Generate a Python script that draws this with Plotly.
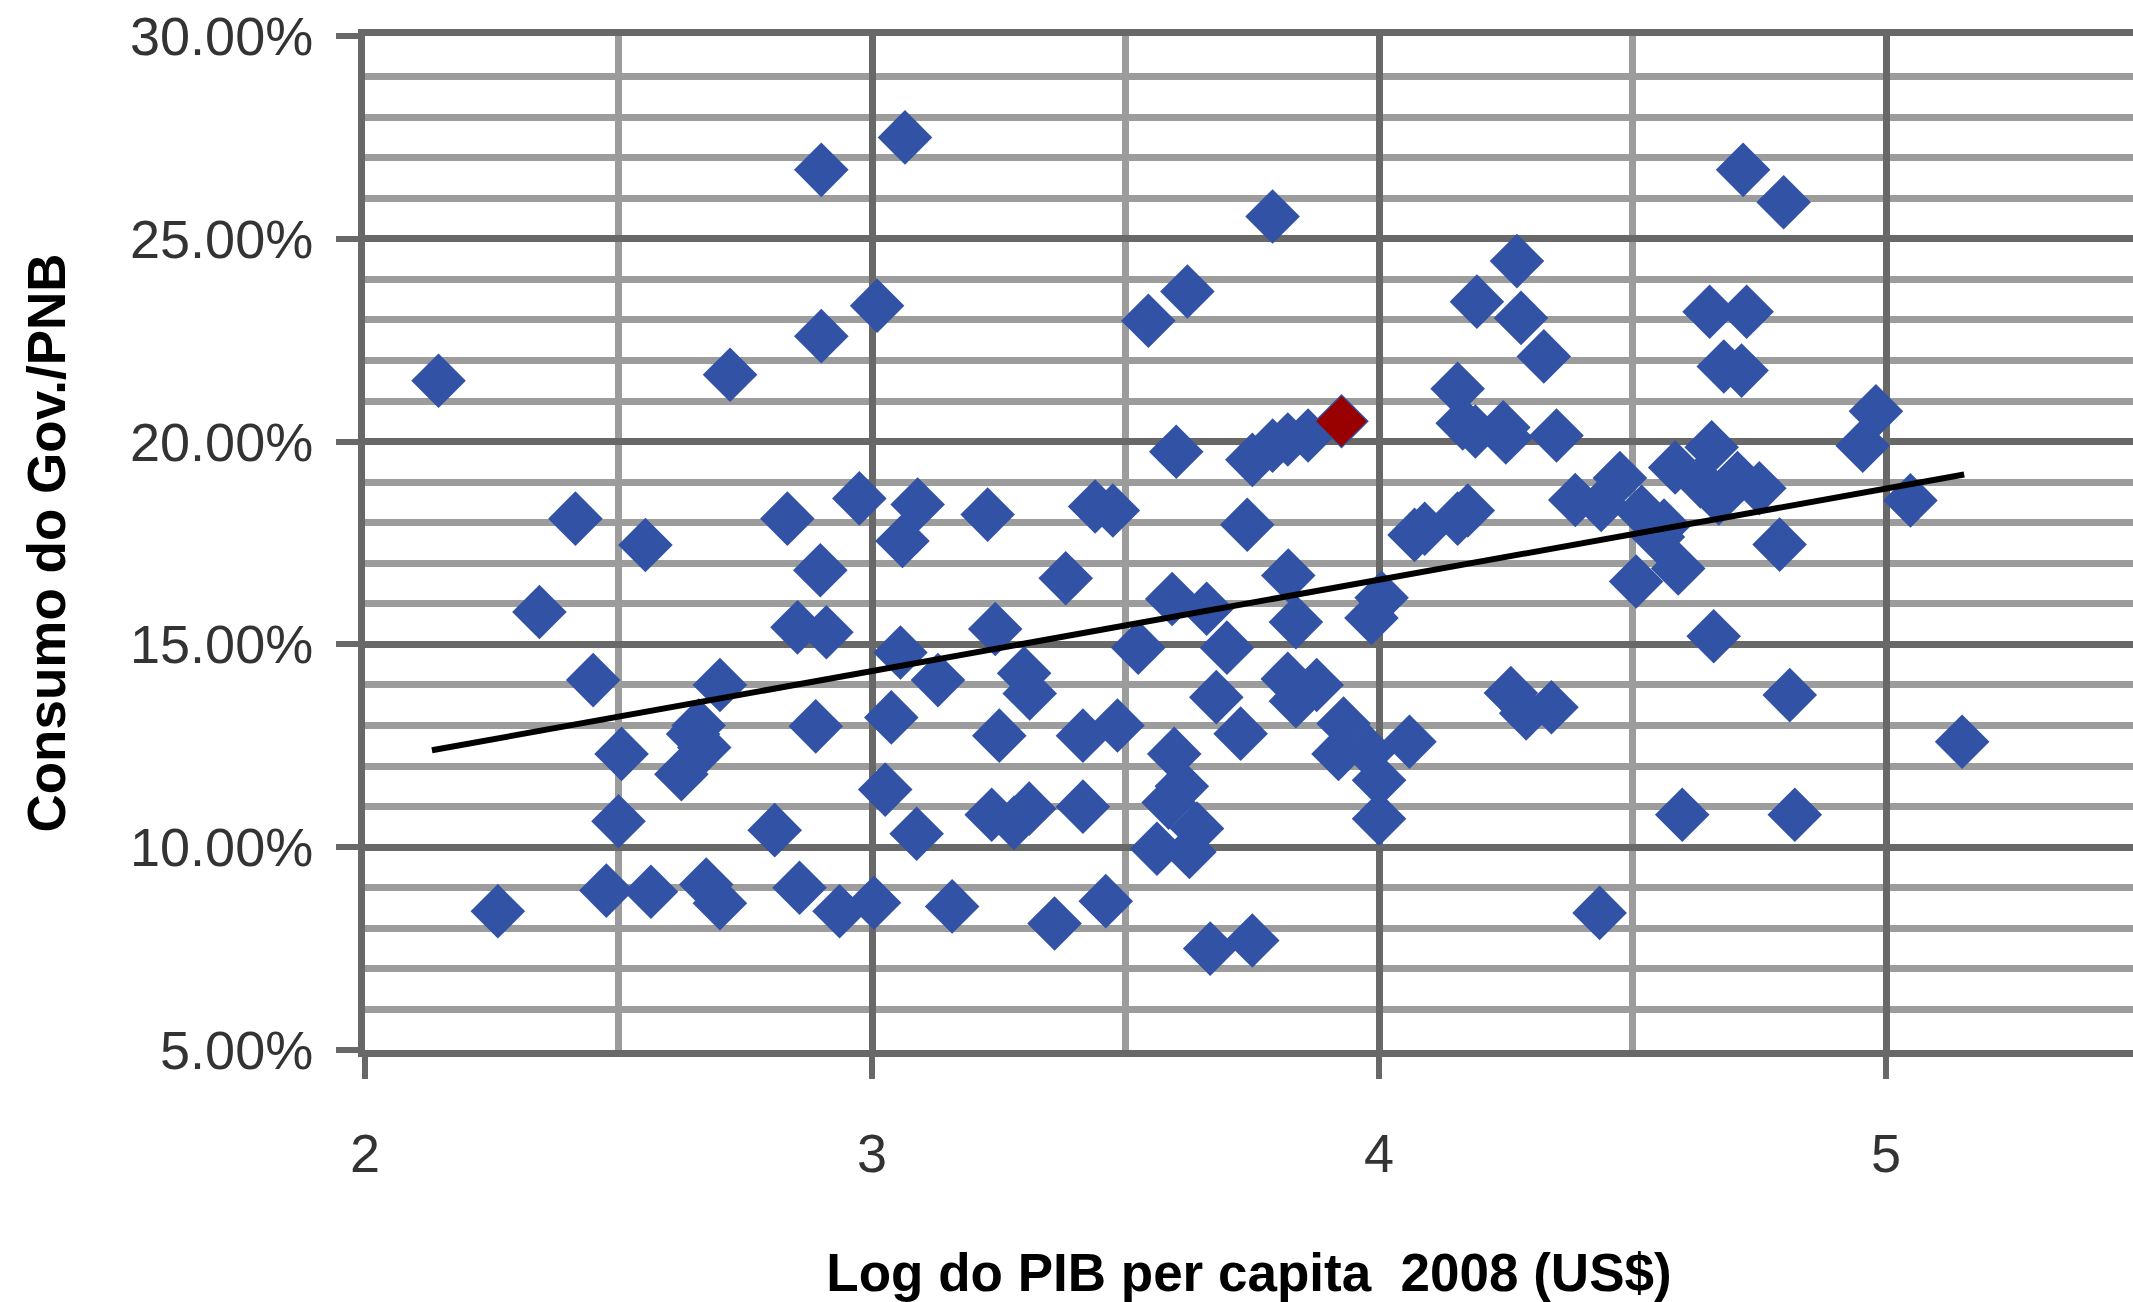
import plotly.graph_objects as go

# Log GDP per capita 2008 (x) vs government consumption / GNP in % (y)
log_pib = [
    2.145, 2.72, 2.90, 3.065, 2.90, 3.01, 2.415, 2.553, 2.833, 2.975, 3.09, 3.06,
    3.228, 3.44, 3.475, 3.79, 3.622, 3.545, 3.60, 3.74, 3.75, 3.79, 3.82, 3.86,
    3.926, 4.272, 4.193, 4.28, 4.325, 4.155, 4.165, 4.19, 4.245, 4.25, 4.07, 4.09,
    4.155, 4.175,
    4.718, 4.798, 4.652, 4.725, 4.68, 4.715, 4.35, 4.98, 4.954, 5.048, 4.475, 4.387,
    4.438, 4.518, 4.562, 4.656, 4.584, 4.634, 4.707, 4.75, 4.67, 4.79, 4.55,
    2.898, 2.344, 2.853, 2.91, 3.056, 3.13, 2.45, 2.70, 2.658, 2.669, 2.624, 2.647,
    2.889, 3.038, 2.506, 3.026, 2.50, 2.808, 3.088, 2.262, 2.476, 2.564, 2.673, 2.70,
    2.857, 2.936, 3.004, 3.158,
    3.382, 3.821, 3.243, 3.592, 3.66, 3.985, 4.005, 3.836, 3.525, 3.70, 3.30, 3.311,
    3.679, 3.82, 3.877, 3.836, 3.251, 3.416, 3.484, 3.727, 3.93, 3.92, 3.98, 4.06,
    4.0, 4.0, 3.596, 3.611, 3.585, 3.641, 3.562, 3.626, 3.236, 3.31, 3.416, 3.28,
    3.36, 3.461, 3.667, 3.75,
    4.507, 4.59, 4.66, 4.81, 5.15, 4.26, 4.29, 4.34, 4.598, 4.82, 4.435,
]
consumo_gov = [
    21.5, 21.65, 26.7, 27.5, 22.6, 23.35, 18.1, 17.45, 18.1, 18.6, 18.45, 17.55,
    18.2, 18.4, 18.3, 25.55, 23.7, 22.98, 19.75, 17.95, 19.55, 19.9, 20.05, 20.15,
    20.5, 24.45, 23.45, 23.05, 22.1, 21.3, 20.45, 20.25, 20.35, 20.1, 17.7, 17.85,
    18.1, 18.3,
    26.7, 25.9, 23.2, 23.2, 21.85, 21.75, 20.15, 20.75, 19.9, 18.55, 19.1, 18.56,
    18.44, 18.27, 17.93, 19.86, 19.36, 19.02, 19.1, 18.85, 18.6, 17.46, 17.65,
    16.83, 15.8, 15.42, 15.3, 14.8, 14.12, 14.12, 14.0, 13.0, 12.46, 11.8, 12.79,
    12.98, 13.2, 12.3, 11.42, 10.64, 10.42, 10.33, 8.42, 8.93, 8.9, 9.08, 8.62,
    9.0, 8.42, 8.63, 8.54,
    16.63, 16.7, 15.38, 16.12, 15.88, 15.65, 16.15, 15.55, 14.92, 14.92, 14.29, 13.79,
    13.7, 14.15, 14.0, 13.6, 12.75, 12.75, 13.0, 12.8, 13.05, 12.3, 12.35, 12.6,
    11.65, 10.7, 12.3, 11.5, 11.1, 10.46, 9.96, 9.88, 10.8, 10.95, 11.0, 10.6,
    8.12, 8.67, 7.5, 7.7,
    16.55, 16.87, 15.2, 13.75, 12.6, 13.8, 13.3, 13.45, 10.8, 10.8, 8.38,
]

# highlighted country
destaque_x = [3.926]
destaque_y = [20.5]

# linear trend line end points
trend_x = [2.132, 5.154]
trend_y = [12.39, 19.19]

x_ticks = [2, 3, 4, 5]
y_ticks = [5, 10, 15, 20, 25, 30]
y_labels = ["5.00%", "10.00%", "15.00%", "20.00%", "25.00%", "30.00%"]

BLUE = "rgb(50,82,165)"
DARK_GRID = "#686868"
LIGHT_GRID = "#9c9c9c"

fig = go.Figure()

fig.add_trace(go.Scatter(
    x=log_pib, y=consumo_gov,
    mode="markers",
    marker=dict(symbol="diamond", size=42, color=BLUE, line=dict(width=0)),
    showlegend=False,
))
fig.add_trace(go.Scatter(
    x=destaque_x, y=destaque_y,
    mode="markers",
    marker=dict(symbol="diamond", size=39, color="#990000", line=dict(width=0)),
    showlegend=False,
))
fig.add_trace(go.Scatter(
    x=trend_x, y=trend_y,
    mode="lines",
    line=dict(color="black", width=6),
    showlegend=False,
))

fig.update_layout(
    width=2133,
    height=1302,
    margin=dict(l=365, r=0, t=36, b=252),
    plot_bgcolor="white",
    paper_bgcolor="white",
    font=dict(family="Liberation Sans, Arial, sans-serif", size=54, color="#333333"),
)

fig.update_xaxes(
    range=[2, 5.487],
    tickvals=x_ticks,
    ticks="outside", ticklen=22, tickwidth=6, tickcolor=DARK_GRID,
    ticklabelstandoff=28,
    ticklabeloverflow="allow",
    showline=True, linecolor=DARK_GRID, linewidth=7, mirror=True,
    showgrid=True, gridcolor=DARK_GRID, gridwidth=7,
    minor=dict(dtick=0.5, tick0=2, showgrid=True, gridcolor=LIGHT_GRID, gridwidth=7, ticks=""),
    zeroline=False,
    automargin=False,
    title=dict(
        text="Log do PIB per capita\u00a0 2008 (US$)",
        font=dict(size=53, color="black", weight="bold"),
        standoff=78,
    ),
)

fig.update_yaxes(
    range=[5, 30],
    tickvals=y_ticks,
    ticktext=y_labels,
    ticks="outside", ticklen=22, tickwidth=6, tickcolor=DARK_GRID,
    ticklabelstandoff=12,
    ticklabeloverflow="allow",
    showline=True, linecolor=DARK_GRID, linewidth=7,
    showgrid=True, gridcolor=DARK_GRID, gridwidth=7,
    minor=dict(dtick=1, tick0=5, showgrid=True, gridcolor=LIGHT_GRID, gridwidth=7, ticks=""),
    zeroline=False,
    automargin=False,
    title=dict(
        text="Consumo do Gov./PNB",
        font=dict(size=53, color="black", weight="bold"),
        standoff=50,
    ),
)

# drop the default page margin so the figure fills the window exactly
fig.write_html(
    "out.html",
    config={"displayModeBar": False},
    post_script="document.body.style.margin = '0';",
)
